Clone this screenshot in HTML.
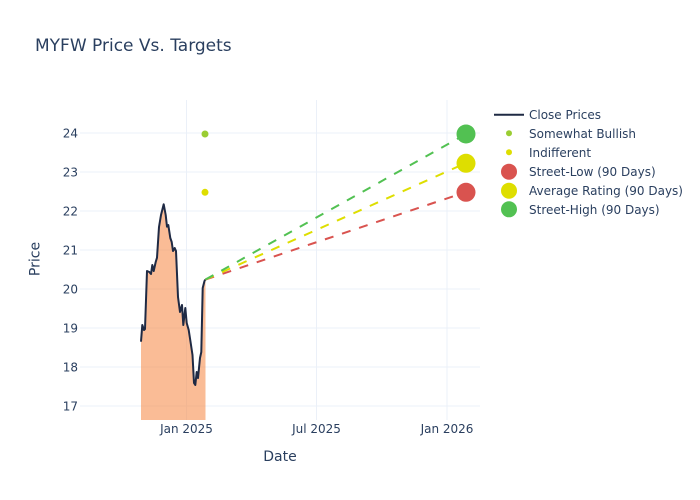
<!DOCTYPE html>
<html><head><meta charset="utf-8"><style>
html,body{margin:0;padding:0;background:#fff;}
svg{display:block;font-family:"DejaVu Sans","Liberation Sans",sans-serif;}
</style></head><body>
<svg width="700" height="500" viewBox="0 0 700 500" xmlns="http://www.w3.org/2000/svg">
<rect width="700" height="500" fill="#fff"/>
<!-- grid -->
<g stroke="#ebf0f8" stroke-width="1">
<line x1="80" x2="480" y1="406" y2="406"/>
<line x1="80" x2="480" y1="367" y2="367"/>
<line x1="80" x2="480" y1="328" y2="328"/>
<line x1="80" x2="480" y1="289" y2="289"/>
<line x1="80" x2="480" y1="250" y2="250"/>
<line x1="80" x2="480" y1="211" y2="211"/>
<line x1="80" x2="480" y1="172" y2="172"/>
<line x1="80" x2="480" y1="133" y2="133"/>
<line x1="186.5" x2="186.5" y1="100" y2="420"/>
<line x1="316.5" x2="316.5" y1="100" y2="420"/>
<line x1="447" x2="447" y1="100" y2="420"/>
</g>
<!-- fill -->
<path d="M141,341.7 L142.3,325 L144,330 L145,329 L147,271 L149.3,272 L151,274 L152.3,265 L153.7,271 L155.7,262 L157,257.7 L159,227 L161,215 L163.7,204.3 L165.7,215 L167,226.7 L168.3,225 L170.3,238 L171.7,242 L173,251 L174.7,248 L176,251 L178,297 L180,312 L182,305 L183.3,325 L185.3,308 L186.7,323 L188.7,330 L190.7,343 L192.5,355 L194,383 L195.3,385 L196.7,372 L198,378 L200,358 L201.3,352 L202.7,288 L204.5,281 L205.5,279.5 L205.5,420 L141,420 Z" fill="rgba(247,143,80,0.6)"/>
<!-- close line -->
<path d="M141,341.7 L142.3,325 L144,330 L145,329 L147,271 L149.3,272 L151,274 L152.3,265 L153.7,271 L155.7,262 L157,257.7 L159,227 L161,215 L163.7,204.3 L165.7,215 L167,226.7 L168.3,225 L170.3,238 L171.7,242 L173,251 L174.7,248 L176,251 L178,297 L180,312 L182,305 L183.3,325 L185.3,308 L186.7,323 L188.7,330 L190.7,343 L192.5,355 L194,383 L195.3,385 L196.7,372 L198,378 L200,358 L201.3,352 L202.7,288 L204.5,281 L205.5,279.5" fill="none" stroke="#1f2a44" stroke-width="2" stroke-linejoin="round"/>
<!-- dashed target lines -->
<g fill="none" stroke-width="2" stroke-dasharray="9,9">
<line x1="205.5" y1="279.5" x2="466" y2="192" stroke="#d9534f"/>
<line x1="205.5" y1="279.5" x2="466" y2="163" stroke="#dede00"/>
<line x1="205.5" y1="279.5" x2="466" y2="134" stroke="#52c152"/>
</g>
<!-- small dots -->
<circle cx="205" cy="134" r="3.5" fill="#9acd32"/>
<circle cx="205" cy="192.3" r="3.5" fill="#dede00"/>
<!-- big markers -->
<circle cx="466" cy="192.3" r="9.5" fill="#d9534f"/>
<circle cx="466" cy="163.3" r="9.5" fill="#dede00"/>
<circle cx="466" cy="134" r="9.5" fill="#52c152"/>
<!-- y tick labels -->
<g font-size="12" fill="#2a3f5f" text-anchor="end">
<text x="78" y="410.5">17</text>
<text x="78" y="371.5">18</text>
<text x="78" y="332.5">19</text>
<text x="78" y="293.5">20</text>
<text x="78" y="254.5">21</text>
<text x="78" y="215.5">22</text>
<text x="78" y="176.5">23</text>
<text x="78" y="137.5">24</text>
</g>
<!-- x tick labels -->
<g font-size="12" fill="#2a3f5f" text-anchor="middle">
<text x="186.5" y="433">Jan 2025</text>
<text x="316.5" y="433">Jul 2025</text>
<text x="447" y="433">Jan 2026</text>
</g>
<!-- axis titles -->
<text x="280" y="461" font-size="14" fill="#2a3f5f" text-anchor="middle">Date</text>
<text transform="translate(39.3,259) rotate(-90)" font-size="14" fill="#2a3f5f" text-anchor="middle">Price</text>
<!-- title -->
<text x="35" y="51" font-size="17" fill="#2a3f5f">MYFW Price Vs. Targets</text>
<!-- legend -->
<g font-size="12" fill="#2a3f5f">
<line x1="494" x2="524" y1="114.7" y2="114.7" stroke="#1f2a44" stroke-width="2"/>
<text x="529" y="119">Close Prices</text>
<circle cx="509" cy="133.3" r="3" fill="#9acd32"/>
<text x="529" y="138">Somewhat Bullish</text>
<circle cx="509" cy="152.3" r="3" fill="#dede00"/>
<text x="529" y="157">Indifferent</text>
<circle cx="509" cy="171.7" r="8" fill="#d9534f"/>
<text x="529" y="176">Street-Low (90 Days)</text>
<circle cx="509" cy="190.7" r="8" fill="#dede00"/>
<text x="529" y="195">Average Rating (90 Days)</text>
<circle cx="509" cy="209.3" r="8" fill="#52c152"/>
<text x="529" y="214">Street-High (90 Days)</text>
</g>
</svg>
</body></html>
